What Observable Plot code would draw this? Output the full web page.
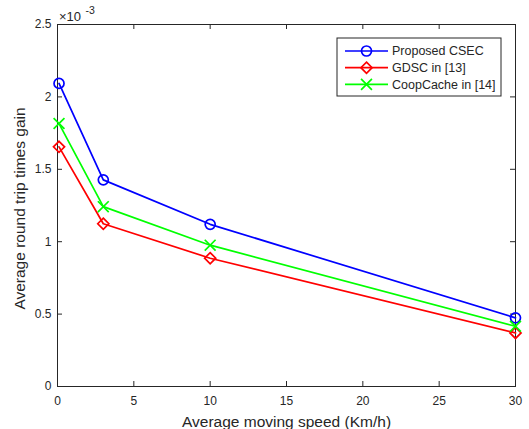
<!DOCTYPE html>
<html><head><meta charset="utf-8">
<script src="https://cdn.jsdelivr.net/npm/d3@7"></script>
<script src="https://cdn.jsdelivr.net/npm/@observablehq/plot@0.6"></script>
<style>body{margin:0;background:#fff}</style>
</head><body><div id="chart"></div>
<script>
const speeds = [0.1, 3, 10, 30];
const seriesNames = ["Proposed CSEC", "GDSC in [13]", "CoopCache in [14]"];
const csec = [2.093, 1.427, 1.12, 0.474];
const gdsc = [1.655, 1.124, 0.886, 0.37];
const coop = [1.816, 1.242, 0.976, 0.416];
const xTicks = [0, 5, 10, 15, 20, 25, 30];
const yTicks = [0, 0.5, 1, 1.5, 2, 2.5];
const colors = ["#0000ff", "#ff0000", "#00ff00"];
const symbols = ["circle", "diamond2", "times"];
const xLabel = "Average moving speed (Km/h)";
const yLabel = "Average round trip times gain";

const W = 529, H = 429;
const mL = 57, mR = 14, mT = 24, mB = 43;
const fw = W - mL - mR, fh = H - mT - mB;
const axisColor = "#262626";
const font = "Liberation Sans, Arial, Helvetica, sans-serif";

const values = [csec, gdsc, coop];
const rows = [];
seriesNames.forEach((s, i) => speeds.forEach((x, j) => rows.push({x, y: values[i][j], s})));

const svg = Plot.plot({
  width: W, height: H,
  marginLeft: mL, marginRight: mR, marginTop: mT, marginBottom: mB,
  style: {fontFamily: font, fontSize: "12px", color: axisColor, background: "#fff"},
  x: {domain: [0, 30]},
  y: {domain: [0, 2.5]},
  color: {domain: seriesNames, range: colors},
  symbol: {domain: seriesNames, range: symbols},
  marks: [
    Plot.tickX(xTicks, {x: d => d, insetTop: fh - 5, stroke: axisColor, strokeWidth: 1}),
    Plot.tickX(xTicks, {x: d => d, insetBottom: fh - 5, stroke: axisColor, strokeWidth: 1}),
    Plot.tickY(yTicks, {y: d => d, insetRight: fw - 5, stroke: axisColor, strokeWidth: 1}),
    Plot.tickY(yTicks, {y: d => d, insetLeft: fw - 5, stroke: axisColor, strokeWidth: 1}),
    Plot.axisX(xTicks, {tickSize: 0, tickPadding: 10, label: null, fontSize: 12, fill: axisColor}),
    Plot.axisY(yTicks, {tickSize: 0, tickPadding: 6, label: null, fontSize: 12, fill: axisColor, tickFormat: d => String(d)}),
    Plot.frame({stroke: axisColor, strokeWidth: 1}),
    Plot.line(rows, {x: "x", y: "y", z: "s", stroke: "s", strokeWidth: 1.7}),
    Plot.dot(rows, {x: "x", y: "y", stroke: "s", symbol: "s", r: 5, strokeWidth: 1.7}),
    Plot.text([xLabel], {frameAnchor: "bottom", text: d => d, lineAnchor: "middle", textAnchor: "middle", dy: 35.5, fontSize: 15.5, fill: axisColor}),
    Plot.text([yLabel], {frameAnchor: "left", text: d => d, rotate: -90, textAnchor: "middle", lineAnchor: "middle", dx: -37, dy: 3, fontSize: 15.5, fill: axisColor}),
    Plot.text(["×10"], {frameAnchor: "top-left", text: d => d, textAnchor: "start", lineAnchor: "middle", dx: 1.5, dy: -8, fontSize: 13, fill: axisColor}),
    Plot.text(["-3"], {frameAnchor: "top-left", text: d => d, textAnchor: "start", lineAnchor: "middle", dx: 28, dy: -14, fontSize: 10.5, fill: axisColor})
  ]
});
document.getElementById("chart").appendChild(svg);

// Legend (MATLAB-style box inside the axes)
const sel = d3.select(svg);
const lg = sel.append("g").attr("font-family", font).attr("font-size", 12.5).attr("text-anchor", "start");
const lx = 337, ly = 38, lw = 164, lh = 58;
lg.append("rect").attr("x", lx).attr("y", ly).attr("width", lw).attr("height", lh)
  .attr("fill", "#fff").attr("stroke", axisColor).attr("stroke-width", 1);
const d3sym = {circle: d3.symbolCircle, diamond2: d3.symbolDiamond2, times: d3.symbolTimes};
seriesNames.forEach((s, i) => {
  const yy = ly + 13 + i * 16.7;
  lg.append("line").attr("x1", lx + 8).attr("x2", lx + 51).attr("y1", yy).attr("y2", yy)
    .attr("stroke", colors[i]).attr("stroke-width", 1.7);
  lg.append("path").attr("d", d3.symbol(d3sym[symbols[i]], Math.PI * 25)())
    .attr("transform", `translate(${lx + 29.5},${yy})`)
    .attr("fill", "none").attr("stroke", colors[i]).attr("stroke-width", 1.7);
  lg.append("text").attr("x", lx + 55).attr("y", yy).attr("dy", "0.35em")
    .attr("text-anchor", "start").attr("fill", axisColor).text(s);
});
</script>
</body></html>
